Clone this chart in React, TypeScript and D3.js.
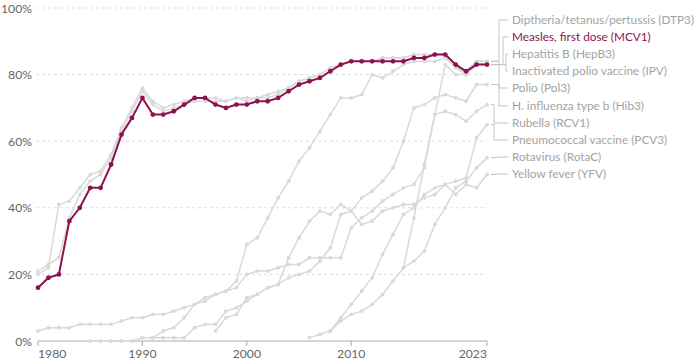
import React, { useRef, useEffect } from "react";
import * as d3 from "d3";

// share of one-year-olds vaccinated, world, 1980-2023
const firstYear = 1980;
const lastYear = 2023;

const mcv1 = [16, 19, 20, 36, 40, 46, 46, 53, 62, 67, 73, 68, 68, 69, 71, 73, 73, 71, 70, 71, 71, 72, 72, 73, 75, 77, 78, 79, 81, 83, 84, 84, 84, 84, 84, 84, 85, 85, 86, 86, 83, 81, 83, 83];
const dtp3 = [21, 23, 25, 37, 44, 48, 50, 55, 63, 69, 75, 71, 69, 70, 71, 72, 72, 72, 72, 73, 72, 73, 73, 74, 76, 78, 79, 80, 82, 83, 84, 84, 84, 85, 85, 85, 86, 86, 86, 86, 83, 81, 84, 84];
const pol3 = [20, 22, 41, 42, 46, 50, 51, 56, 64, 70, 76, 72, 70, 71, 72, 73, 73, 73, 72, 73, 73, 73, 74, 75, 76, 78, 79, 80, 82, 83, 84, 84, 84, 85, 85, 85, 86, 86, 86, 86, 83, 80, 84, 84];
const rcv1 = [3, 4, 4, 4, 5, 5, 5, 5, 6, 7, 7, 8, 8, 9, 10, 11, 12, 14, 15, 16, 20, 21, 21, 22, 23, 23, 25, 25, 25, 25, 34, 37, 39, 42, 44, 46, 47, 52, 68, 69, 68, 66, 69, 71];
const hepb3 = [0, 0, 0, 0, 0, 1, 1, 3, 4, 7, 11, 13, 14, 15, 18, 29, 31, 37, 43, 48, 54, 58, 63, 68, 73, 73, 74, 80, 79, 81, 83, 84, 84, 84, 85, 82, 80, 83, 83];
const hib3 = [1, 1, 1, 1, 4, 5, 5, 9, 10, 12, 14, 16, 17, 19, 20, 21, 24, 28, 38, 39, 43, 45, 48, 52, 60, 70, 71, 73, 74, 73, 72, 77, 77];
const yfv = [3, 7, 8, 13, 14, 16, 17, 25, 31, 36, 39, 38, 41, 39, 35, 36, 39, 40, 41, 41, 43, 44, 47, 44, 47, 46, 50];
const rotac = [1, 2, 3, 6, 8, 9, 11, 14, 18, 22, 24, 27, 35, 40, 46, 48, 52, 55];
const pcv3 = [3, 7, 11, 15, 19, 26, 32, 38, 40, 44, 46, 47, 48, 49, 61, 65];
const ipv = [22, 37, 53, 68, 83, 80, 80, 83, 83];

// label text, series, first year, label y, connector knee x
const series = [
  { name: "Diptheria/tetanus/pertussis (DTP3)", values: dtp3, start: 1980, labelY: 20, knee: 499 },
  { name: "Measles, first dose (MCV1)", values: mcv1, start: 1980, labelY: 37, knee: 503 },
  { name: "Hepatitis B (HepB3)", values: hepb3, start: 1985, labelY: 54, knee: 506 },
  { name: "Inactivated polio vaccine (IPV)", values: ipv, start: 2015, labelY: 71, knee: 506 },
  { name: "Polio (Pol3)", values: pol3, start: 1980, labelY: 88, knee: 499 },
  { name: "H. influenza type b (Hib3)", values: hib3, start: 1991, labelY: 106, knee: 499 },
  { name: "Rubella (RCV1)", values: rcv1, start: 1980, labelY: 123, knee: 494 },
  { name: "Pneumococcal vaccine (PCV3)", values: pcv3, start: 2008, labelY: 140, knee: 494 },
  { name: "Rotavirus (RotaC)", values: rotac, start: 2006, labelY: 157, knee: null },
  { name: "Yellow fever (YFV)", values: yfv, start: 1997, labelY: 174, knee: null },
];

const highlight = "Measles, first dose (MCV1)";
const yTicks = [0, 20, 40, 60, 80, 100];
const xTicks = [1980, 1990, 2000, 2010, 2023];

const App = () => {
  const ref = useRef(null);

  useEffect(() => {
    const svg = d3.select(ref.current);
    svg.selectAll("*").remove();

    const magenta = "#8f1150";
    const grey = "#d9d9d9";
    const font = "Lato, 'Noto Sans', sans-serif";

    const x = d3.scaleLinear().domain([firstYear, lastYear]).range([38, 487]);
    const y = d3.scaleLinear().domain([0, 100]).range([341, 8]);

    // grid
    svg
      .append("g")
      .selectAll("line")
      .data(yTicks.filter((d) => d > 0))
      .enter()
      .append("line")
      .attr("x1", 36)
      .attr("x2", 487)
      .attr("y1", (d) => y(d))
      .attr("y2", (d) => y(d))
      .attr("stroke", "#dddddd")
      .attr("stroke-dasharray", "3,3");

    svg
      .append("g")
      .selectAll("text")
      .data(yTicks)
      .enter()
      .append("text")
      .attr("x", 32)
      .attr("y", (d) => y(d) + 4.5)
      .attr("text-anchor", "end")
      .attr("font-family", font)
      .attr("font-size", 12.2)
      .attr("fill", "#666")
      .text((d) => d + "%");

    // x axis
    svg
      .append("line")
      .attr("x1", x(firstYear))
      .attr("x2", x(lastYear))
      .attr("y1", y(0))
      .attr("y2", y(0))
      .attr("stroke", "#aaa");

    const xg = svg.append("g");
    xg.selectAll("line")
      .data(xTicks)
      .enter()
      .append("line")
      .attr("x1", (d) => x(d))
      .attr("x2", (d) => x(d))
      .attr("y1", y(0))
      .attr("y2", y(0) + 5)
      .attr("stroke", "#aaa");
    xg.selectAll("text")
      .data(xTicks)
      .enter()
      .append("text")
      .attr("x", (d) => x(d))
      .attr("y", 358)
      .attr("text-anchor", (d, i) => (i === 0 ? "start" : i === xTicks.length - 1 ? "end" : "middle"))
      .attr("font-family", font)
      .attr("font-size", 12.2)
      .attr("fill", "#666")
      .text((d) => d);

    const line = d3
      .line()
      .x((d) => x(d.year))
      .y((d) => y(d.value));

    const ordered = series
      .filter((s) => s.name !== highlight)
      .concat(series.filter((s) => s.name === highlight));

    ordered.forEach((s) => {
      const pts = s.values.map((v, i) => ({ year: s.start + i, value: v }));
      const hl = s.name === highlight;
      const color = hl ? magenta : grey;
      const g = svg.append("g");
      g.append("path")
        .attr("d", line(pts))
        .attr("fill", "none")
        .attr("stroke", color)
        .attr("stroke-width", hl ? 2 : 1.5);
      g.selectAll("circle")
        .data(pts)
        .enter()
        .append("circle")
        .attr("cx", (d) => x(d.year))
        .attr("cy", (d) => y(d.value))
        .attr("r", hl ? 2.4 : 1.9)
        .attr("fill", color);
    });

    // labels and connectors
    series.forEach((s) => {
      const endY = y(s.values[s.values.length - 1]);
      const x0 = x(lastYear) + 4;
      const path = s.knee
        ? `M${x0},${endY}H${s.knee}V${s.labelY}H${508}`
        : `M${x0},${endY}L${500},${s.labelY}H${508}`;
      svg
        .append("path")
        .attr("d", path)
        .attr("fill", "none")
        .attr("stroke", "#c4c4c4")
        .attr("stroke-width", 1);
      svg
        .append("text")
        .attr("x", 512)
        .attr("y", s.labelY + 4.3)
        .attr("font-family", font)
        .attr("font-size", 11.8)
        .attr("fill", s.name === highlight ? magenta : "#a3a3a3")
        .text(s.name);
    });
  }, []);

  return (
    <svg
      ref={ref}
      width={700}
      height={364}
      style={{ position: "absolute", left: 0, top: 0, background: "#fff" }}
    />
  );
};

export default App;
